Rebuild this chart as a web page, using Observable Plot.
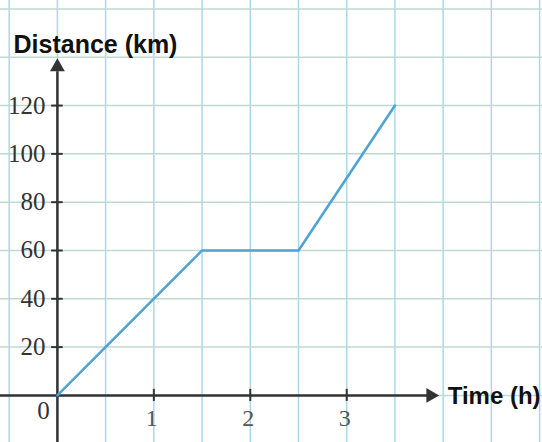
<!DOCTYPE html>
<html>
<head>
<meta charset="utf-8">
<script src="https://cdn.jsdelivr.net/npm/d3@7"></script>
<script src="https://cdn.jsdelivr.net/npm/@observablehq/plot@0.6"></script>
<style>
  html, body { margin: 0; padding: 0; background: #ffffff; }
  #chart svg { display: block; }
</style>
</head>
<body>
<div id="chart"></div>
<script>
// Data
const times = [0, 1.5, 2.5, 3.5];          // hours
const distances = [0, 60, 60, 120];        // km
const yTickValues = [20, 40, 60, 80, 100, 120];
const xTickValues = [1, 2, 3];
const gridXValues = [-0.5, 0, 0.5, 1, 1.5, 2, 2.5, 3, 3.5, 4, 4.5, 5];
const gridYValues = [0, 20, 40, 60, 80, 100, 120, 140, 160];
const yLabel = "Distance (km)";
const xLabel = "Time (h)";

const pts = times.map((t, i) => ({t, d: distances[i]}));
const axisColor = "#333333";

const chart = Plot.plot({
  width: 542,
  height: 442,
  margin: 0,
  x: {domain: [-0.59, 5.03], axis: null},
  y: {domain: [-19.5, 163.5], axis: null},
  style: {background: "#ffffff", overflow: "visible"},
  marks: [
    // grid
    Plot.ruleX(gridXValues, {x: d => d, stroke: "#a9d9e8", strokeWidth: 1.5}),
    Plot.ruleY(gridYValues, {y: d => d, stroke: "#bfd9cf", strokeWidth: 1.5}),
    // axes
    Plot.ruleX([0], {x: d => d, y1: -19.5, y2: 134, stroke: axisColor, strokeWidth: 2.5}),
    Plot.ruleY([0], {y: d => d, x1: -0.59, x2: 3.86, stroke: axisColor, strokeWidth: 2.5}),
    Plot.dot([{x: 0, y: 136}], {x: "x", y: "y", symbol: "triangle", r: 5.5, fill: axisColor, stroke: null}),
    Plot.dot([{x: 3.87, y: 0}], {x: "x", y: "y", symbol: "triangle", r: 5.5, rotate: 90, fill: axisColor, stroke: null}),
    // tick marks
    Plot.ruleY(yTickValues, {y: d => d, x1: -0.06, x2: 0.06, stroke: axisColor, strokeWidth: 2}),
    Plot.ruleX(xTickValues, {x: d => d, y1: -2.5, y2: 2.5, stroke: axisColor, strokeWidth: 2}),
    // tick labels
    Plot.text(yTickValues, {x: 0, y: d => d, text: d => String(d), dx: -12, textAnchor: "end",
      fontFamily: "Liberation Serif", fontSize: 25, fill: "#333333"}),
    Plot.text(xTickValues, {x: d => d, y: 0, text: d => String(d), dx: -2, dy: 23,
      fontFamily: "Liberation Serif", fontSize: 24, fill: "#555555"}),
    Plot.text([0], {x: 0, y: 0, text: d => String(d), dx: -14, dy: 16,
      fontFamily: "Liberation Serif", fontSize: 25, fill: "#333333"}),
    // data line
    Plot.line(pts, {x: "t", y: "d", stroke: "#4da3d6", strokeWidth: 2.5}),
    // axis titles
    Plot.text([yLabel], {x: -0.59, y: 163.5, text: d => d, dx: 13, dy: 44, textAnchor: "start",
      fontFamily: "Liberation Sans", fontWeight: "bold", fontSize: 25, fill: "#111111", letterSpacing: "-0.2px"}),
    Plot.text([xLabel], {x: 3.86, y: 0, text: d => d, dx: 18, dy: 1, textAnchor: "start",
      fontFamily: "Liberation Sans", fontWeight: "bold", fontSize: 24, fill: "#111111", letterSpacing: "-1.3px"})
  ]
});
document.getElementById("chart").append(chart);
</script>
</body>
</html>
